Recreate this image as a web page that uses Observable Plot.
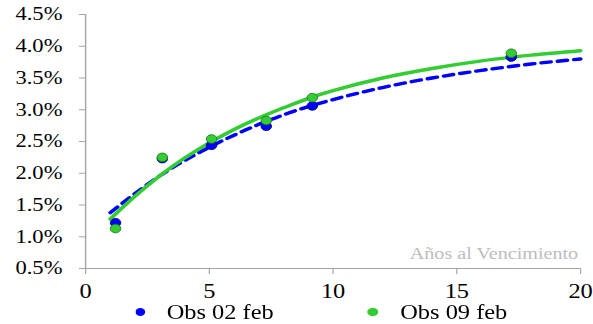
<!DOCTYPE html>
<html>
<head>
<meta charset="utf-8">
<script src="https://cdn.jsdelivr.net/npm/d3@7"></script>
<script src="https://cdn.jsdelivr.net/npm/@observablehq/plot@0.6"></script>
<style>
  html, body { margin: 0; padding: 0; background: #fff; }
  #wrap { width: 486px; transform: scaleX(1.2202); transform-origin: 0 0; font-family: "Liberation Serif", "Times New Roman", serif; }
  #wrap svg { display: block; font-family: "Liberation Serif", "Times New Roman", serif; }
  g[aria-label="y-axis tick"], g[aria-label="x-axis tick"] { stroke: #a6a6a6; }
  g[aria-label="y-axis tick label"], g[aria-label="x-axis tick label"] { fill: #000; }
  #legend { position: relative; height: 20px; font-size: 20px; line-height: 20px; color: #000; }
  #legend .dot { position: absolute; top: 3.75px; width: 8.5px; height: 8.5px; border-radius: 50%; }
  #legend .lab { position: absolute; top: -2px; white-space: nowrap; }
</style>
</head>
<body>
<div id="wrap">
  <div id="chart"></div>
  <div id="legend"></div>
</div>
<script>
// Observed yields (%) by years to maturity
const obsMaturity = [1.21, 3.1, 5.09, 7.3, 9.16, 17.2];
const obsFeb02 = [1.22, 2.23, 2.44, 2.74, 3.06, 3.83];
const obsFeb09 = [1.13, 2.25, 2.54, 2.83, 3.19, 3.89];

// Fitted curves
const curveMaturity = [1, 2, 3, 4, 5, 6, 7, 8, 9, 10, 12, 14, 16, 18, 20];
const curveFeb02 = [1.38, 1.68, 1.96, 2.20, 2.41, 2.60, 2.77, 2.92, 3.05, 3.16, 3.35, 3.50, 3.62, 3.72, 3.80];
const curveFeb09 = [1.28, 1.64, 1.96, 2.24, 2.48, 2.69, 2.87, 3.03, 3.18, 3.30, 3.50, 3.65, 3.77, 3.86, 3.93];

const xTicks = [0, 5, 10, 15, 20];
const yTicks = [0.5, 1.0, 1.5, 2.0, 2.5, 3.0, 3.5, 4.0, 4.5];
const seriesNames = ["Obs 02 feb", "Obs 09 feb"];
const xAxisNote = ["Años al Vencimiento"];

const blueC = "#0000ff";
const greenC = "#33cc33";

const dots02 = obsMaturity.map((m, i) => ({m, y: obsFeb02[i]}));
const dots09 = obsMaturity.map((m, i) => ({m, y: obsFeb09[i]}));
const line02 = curveMaturity.map((m, i) => ({m, y: curveFeb02[i]}));
const line09 = curveMaturity.map((m, i) => ({m, y: curveFeb09[i]}));

const chart = Plot.plot({
  width: 486,
  height: 304,
  marginLeft: 69.66,
  marginRight: 10.7,
  marginTop: 14,
  marginBottom: 36,
  style: {fontFamily: "Liberation Serif", background: "#fff"},
  x: {domain: [0, 20], ticks: xTicks, label: null},
  y: {domain: [0.5, 4.5], ticks: yTicks, label: null},
  marks: [
    Plot.axisX({ticks: xTicks, tickSize: 6, tickPadding: 9, fontSize: 20, label: null, tickFormat: d => String(d)}),
    Plot.axisY({ticks: yTicks, tickSize: 5, tickPadding: 14, fontSize: 18.5, label: null, tickFormat: d => d.toFixed(1) + "%"}),
    Plot.ruleX([0], {stroke: "#a6a6a6", strokeWidth: 1.2}),
    Plot.ruleY([0.5], {stroke: "#a6a6a6", strokeWidth: 1.2}),
    Plot.text(xAxisNote, {x: () => 20, y: () => 0.5, text: d => d, textAnchor: "end", lineAnchor: "bottom", dx: -2, dy: -10, fill: "#bdbdbd", fontSize: 16.5}),
    Plot.line(line02, {x: "m", y: "y", stroke: blueC, strokeWidth: 3.4, strokeDasharray: "8,5.5", strokeLinecap: "round", curve: "monotone-x"}),
    Plot.line(line09, {x: "m", y: "y", stroke: greenC, strokeWidth: 3.4, curve: "monotone-x"}),
    Plot.dot(dots02, {x: "m", y: "y", r: 4.3, fill: blueC, stroke: "#00007a", strokeWidth: 0.8}),
    Plot.dot(dots09, {x: "m", y: "y", r: 4.3, fill: greenC, stroke: "#1f7a1f", strokeWidth: 0.8})
  ]
});
document.getElementById("chart").appendChild(chart);

const legend = document.getElementById("legend");
const legendItems = [
  {name: seriesNames[0], color: blueC, dotX: 110.5, textX: 136.6},
  {name: seriesNames[1], color: greenC, dotX: 301.2, textX: 328}
];
legendItems.forEach(it => {
  const d = document.createElement("div");
  d.className = "dot";
  d.style.left = it.dotX + "px";
  d.style.background = it.color;
  legend.appendChild(d);
  const t = document.createElement("div");
  t.className = "lab";
  t.style.left = it.textX + "px";
  t.textContent = it.name;
  legend.appendChild(t);
});
</script>
</body>
</html>
